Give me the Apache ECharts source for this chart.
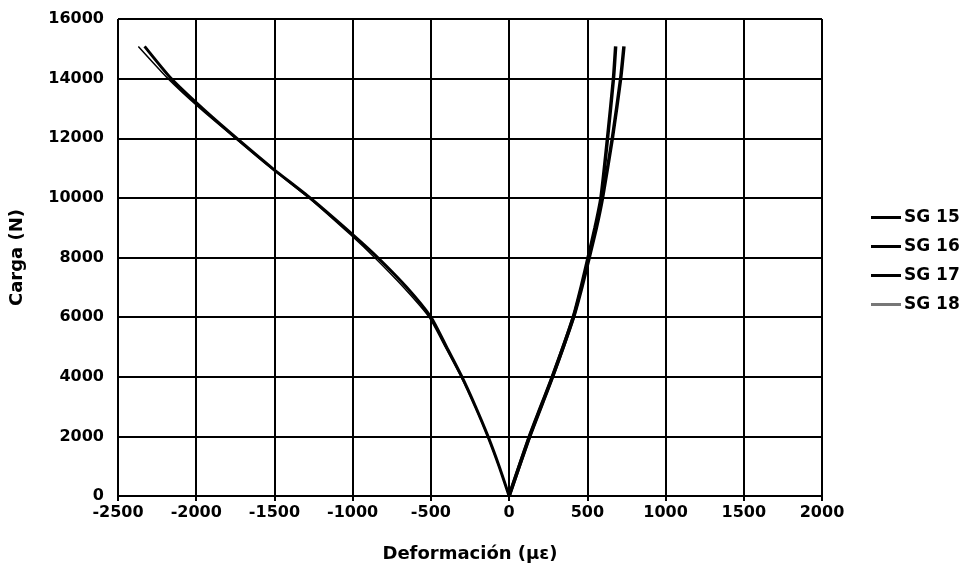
<!DOCTYPE html>
<html>
<head>
<meta charset="utf-8">
<script src="https://cdn.jsdelivr.net/npm/echarts@6/dist/echarts.min.js"></script>
<style>
html,body{margin:0;padding:0;background:#fff;}
#chart{width:965px;height:577px;}
</style>
</head>
<body>
<div id="chart"></div>
<script>
// Series data: [strain (µε), load (N)]
var seriesNames = ['SG 15', 'SG 16', 'SG 17', 'SG 18'];

var sg15Strain = [0, -64, -135, -215, -302, -400, -500, -655, -840, -1000, -1272, -1515, -1742, -1960, -2160, -2330];
var sg15Load   = [0, 1000, 2000, 3000, 4000, 5000, 6000, 7000, 8000, 8770, 10000, 11000, 12000, 13000, 14000, 15080];

var sg16Strain = [0, 132, 278, 410, 460, 505, 549, 587, 629, 667, 681];
var sg16Load   = [0, 2000, 4000, 6000, 7000, 8000, 9000, 10000, 12000, 14000, 15080];

var sg17Strain = [0, 130, 276, 412, 465, 512, 558, 597, 660, 713, 734];
var sg17Load   = [0, 2000, 4000, 6000, 7000, 8000, 9000, 10000, 12000, 14000, 15080];

var sg18Strain = [0, -65, -137, -218, -307, -408, -512, -675, -860, -1015, -1280, -1520, -1750, -1975, -2180, -2370];
var sg18Load   = [0, 1000, 2000, 3000, 4000, 5000, 6000, 7000, 8000, 8770, 10000, 11000, 12000, 13000, 14000, 15080];

var xTicks = [-2500, -2000, -1500, -1000, -500, 0, 500, 1000, 1500, 2000];
var yTicks = [0, 2000, 4000, 6000, 8000, 10000, 12000, 14000, 16000];

function pairs(xs, ys) {
  return xs.map(function (x, i) { return [x, ys[i]]; });
}

var chart = echarts.init(document.getElementById('chart'));
var fontFam = '"DejaVu Sans", "Liberation Sans", Arial, sans-serif';

function plain(v) { return String(v); }

var option = {
  backgroundColor: '#ffffff',
  animation: false,
  grid: { left: 118, right: 143, top: 19, bottom: 81, containLabel: false },
  xAxis: {
    type: 'value',
    min: xTicks[0], max: xTicks[xTicks.length - 1], interval: 500,
    name: 'Deformación (µε)', nameLocation: 'middle', nameGap: 49,
    nameTextStyle: { fontFamily: fontFam, fontWeight: 'bold', fontSize: 18, color: '#000' },
    axisLine: { show: true, onZero: false, lineStyle: { color: '#000', width: 2 } },
    axisTick: { show: true, inside: false, length: 5, lineStyle: { color: '#000', width: 2 } },
    axisLabel: { fontFamily: fontFam, fontWeight: 'bold', fontSize: 16, color: '#000', margin: 9, formatter: plain },
    splitLine: { show: true, lineStyle: { color: '#000', width: 2 } }
  },
  yAxis: {
    type: 'value',
    min: yTicks[0], max: yTicks[yTicks.length - 1], interval: 2000,
    name: 'Carga (N)', nameLocation: 'middle', nameGap: 92, nameRotate: 90,
    nameTextStyle: { fontFamily: fontFam, fontWeight: 'bold', fontSize: 18, color: '#000' },
    axisLine: { show: true, lineStyle: { color: '#000', width: 2 } },
    axisTick: { show: true, inside: false, length: 5, lineStyle: { color: '#000', width: 2 } },
    axisLabel: { fontFamily: fontFam, fontWeight: 'bold', fontSize: 16, color: '#000', margin: 14, formatter: plain },
    splitLine: { show: true, lineStyle: { color: '#000', width: 2 } }
  },
  legend: {
    orient: 'vertical',
    left: 866, top: 204,
    itemWidth: 30, itemHeight: 3, itemGap: 12,
    textStyle: { fontFamily: fontFam, fontWeight: 'bold', fontSize: 17, color: '#000', padding: [0, 0, 0, -2] },
    data: [
      { name: seriesNames[0], icon: 'rect', itemStyle: { color: '#000' } },
      { name: seriesNames[1], icon: 'rect', itemStyle: { color: '#000' } },
      { name: seriesNames[2], icon: 'rect', itemStyle: { color: '#000' } },
      { name: seriesNames[3], icon: 'rect', itemStyle: { color: '#777' } }
    ]
  },
  series: [
    { name: seriesNames[0], type: 'line', symbol: 'none', smooth: 0.2, data: pairs(sg15Strain, sg15Load),
      lineStyle: { color: '#000', width: 3 }, itemStyle: { color: '#000' }, z: 3 },
    { name: seriesNames[1], type: 'line', symbol: 'none', smooth: 0.2, data: pairs(sg16Strain, sg16Load),
      lineStyle: { color: '#000', width: 3.5 }, itemStyle: { color: '#000' }, z: 3 },
    { name: seriesNames[2], type: 'line', symbol: 'none', smooth: 0.2, data: pairs(sg17Strain, sg17Load),
      lineStyle: { color: '#000', width: 3.5 }, itemStyle: { color: '#000' }, z: 3 },
    { name: seriesNames[3], type: 'line', symbol: 'none', smooth: 0.2, data: pairs(sg18Strain, sg18Load),
      lineStyle: { color: '#000', width: 1.5 }, itemStyle: { color: '#000' }, z: 4 }
  ]
};
chart.setOption(option);
</script>
</body>
</html>
